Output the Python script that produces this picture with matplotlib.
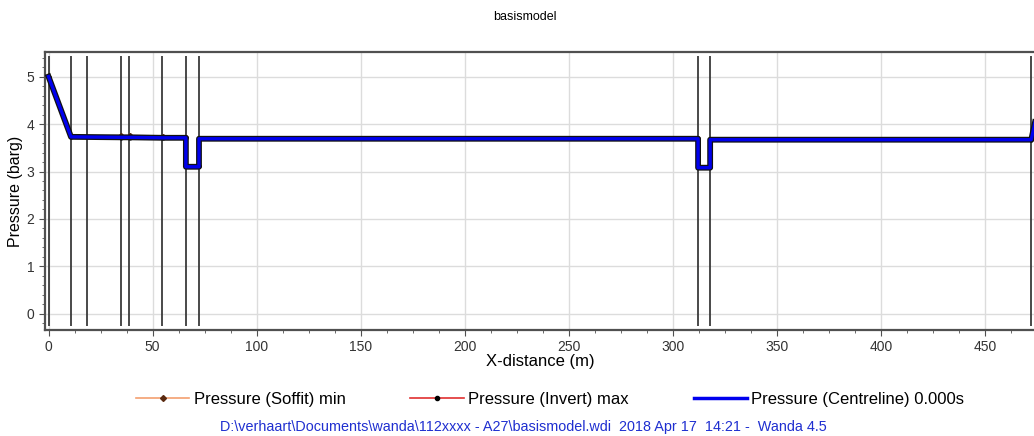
import numpy as np
import matplotlib.pyplot as plt
import matplotlib.patheffects as pe
from matplotlib.lines import Line2D

plt.rcParams['font.family'] = ['Liberation Sans', 'DejaVu Sans']

# ---- data ----
x_nodes = [0, 10.8, 35.0, 39.0, 55.0, 66.0, 66.0, 72.3, 72.3, 312.1, 312.1, 317.9, 317.9, 472.2, 475.0]
p_centre = [5.00, 3.73, 3.72, 3.72, 3.71, 3.71, 3.10, 3.10, 3.69, 3.69, 3.08, 3.08, 3.67, 3.67, 4.25]
p_soffit_min = [4.99, 3.74, 3.76, 3.76, 3.75, 3.72, 3.11, 3.11, 3.70, 3.70, 3.09, 3.09, 3.68, 3.68, 4.25]
p_invert_max = [5.00, 3.73, 3.71, 3.71, 3.71, 3.70, 3.12, 3.12, 3.69, 3.69, 3.10, 3.10, 3.67, 3.67, 4.25]

# node / structure positions (vertical lines)
node_x = [0.1, 10.8, 18.3, 34.9, 38.8, 54.6, 66.0, 72.3, 312.1, 317.9, 472.2]

x_ticks = np.arange(0, 451, 50)
y_ticks = [0, 1, 2, 3, 4, 5]

fig = plt.figure(figsize=(10.34, 4.36), dpi=100)
ax = fig.add_axes([0.0435, 0.243, 0.9585, 0.638])

ax.set_xlim(-1.7, 474.5)
ax.set_ylim(-0.34, 5.52)

# grid
ax.set_xticks(x_ticks)
ax.set_yticks(y_ticks)
ax.set_xticks(np.arange(0, 475, 12.5), minor=True)
ax.set_yticks(np.arange(-0.2, 5.5, 0.2), minor=True)
ax.grid(True, which='major', color='#dcdcdc', lw=1.0)
ax.set_axisbelow(True)

# vertical node lines
ax.vlines(node_x, -0.25, 5.44, color='#3a3a3a', lw=1.3, zorder=2)

# series
ax.plot(x_nodes, p_soffit_min, color='#f4a070', lw=1, marker='D', ms=2,
        mfc='#5a2a10', mec='#5a2a10', zorder=3)
ax.plot(x_nodes, p_invert_max, color='#e03030', lw=1, marker='o', ms=2,
        mfc='black', mec='black', zorder=3)
ax.plot(x_nodes, p_centre, color='#0000ee', lw=2.4, zorder=4,
        path_effects=[pe.Stroke(linewidth=4.2, foreground='#111111'), pe.Normal()])

# spines
ax.spines['right'].set_visible(False)
for s in ['top', 'left', 'bottom']:
    ax.spines[s].set_color('#505050')
    ax.spines[s].set_linewidth(1.6)

ax.tick_params(which='major', length=4, color='#505050', labelsize=10, labelcolor='#333333')
ax.tick_params(which='minor', length=2, color='#505050')

ax.set_xlabel('X-distance (m)', fontsize=12, labelpad=0)
ax.set_ylabel('Pressure (barg)', fontsize=11.5, labelpad=3)

fig.text(0.508, 0.962, 'basismodel', ha='center', va='center', fontsize=9)

handles = [
    Line2D([], [], color='#f4a070', lw=1.2, marker='D', ms=3, mfc='#5a2a10', mec='#5a2a10'),
    Line2D([], [], color='#e03030', lw=1.2, marker='o', ms=3, mfc='black', mec='black'),
    Line2D([], [], color='#0000ee', lw=2.5),
]
labels = ['Pressure (Soffit) min', 'Pressure (Invert) max', 'Pressure (Centreline) 0.000s']
fig.legend(handles, labels, loc='center', bbox_to_anchor=(0.532, 0.083), ncol=3,
           frameon=False, fontsize=12, handlelength=3.2, handletextpad=0.25,
           columnspacing=3.9, borderpad=0, borderaxespad=0)

fig.text(0.506, 0.021, 'D:\\verhaart\\Documents\\wanda\\112xxxx - A27\\basismodel.wdi  2018 Apr 17  14:21 -  Wanda 4.5',
         ha='center', va='center', fontsize=10.4, color='#1f2fd0')

plt.savefig('out.png', dpi=100)
